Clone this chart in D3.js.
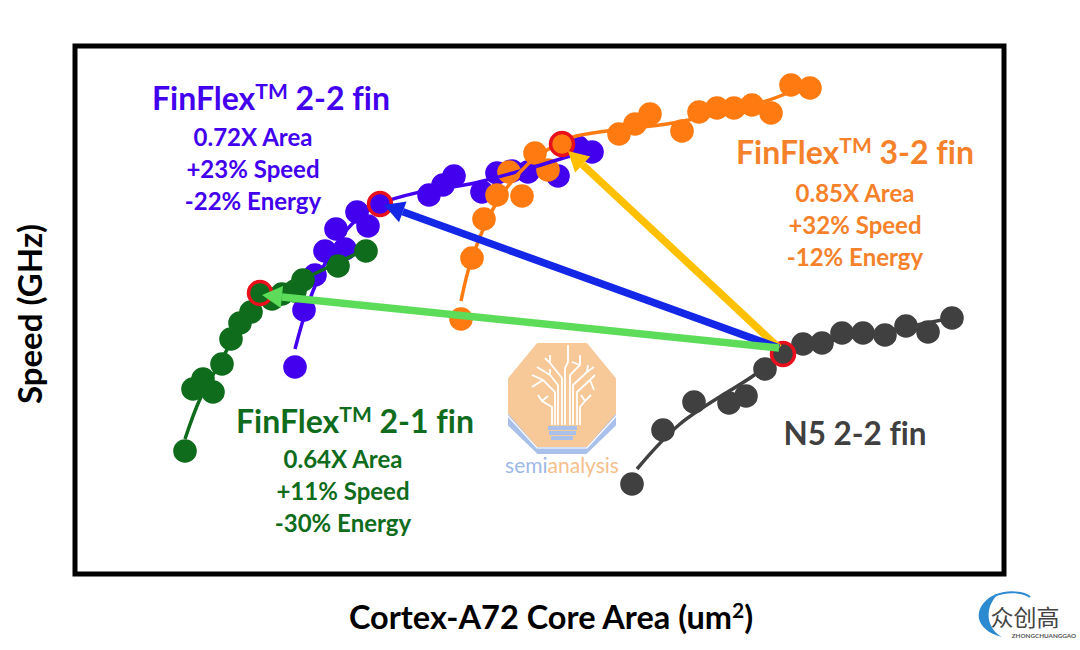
<!DOCTYPE html>
<html>
<head>
<meta charset="utf-8">
<script src="https://cdnjs.cloudflare.com/ajax/libs/d3/7.8.5/d3.min.js"></script>
<style>
  html, body { margin: 0; padding: 0; background: #fff; }
  svg { display: block; }
  text { font-family: Lato, "Open Sans", sans-serif; font-weight: 700; font-variant-ligatures: none; }
</style>
</head>
<body>
<script>
//chart values (no axis numbers in the original, so units are arbitrary)
var orangeX = [386, 397, 409, 422, 447, 434, 473, 460, 487, 544, 560, 575, 607, 624, 642, 659, 677, 696, 716, 735];
var orangeY = [255, 316, 355, 379, 378, 402, 404, 421, 430, 440, 450, 460, 443, 462, 466, 466, 469, 461, 489, 486];
var purpleX = [220, 229, 240, 250, 270, 261, 282, 293, 305, 354, 368, 379, 407, 422, 437, 453, 483, 503, 517];
var purpleY = [207, 264, 299, 323, 325, 345, 362, 348, 370, 379, 389, 398, 382, 401, 403, 402, 398, 427, 422];
var greenX = [110, 118, 128, 138, 147, 156, 165, 176, 185, 197, 207, 220, 228, 263, 291];
var greenY = [123, 185, 195, 182, 210, 235, 251, 262, 281, 275, 280, 283, 294, 308, 323];
var greyX = [557, 588, 619, 654, 671, 690, 708, 728, 747, 767, 788, 810, 831, 853, 877];
var greyY = [90, 144, 172, 171, 178, 205, 220, 230, 231, 241, 241, 239, 248, 242, 256];

//fitted trend lines
var orangeTrend = [[386, 273], [397, 316], [422, 372], [453, 410], [477, 427], [498, 437], [532, 443], [598, 451], [688, 472], [715, 482]];
var purpleTrend = [[220, 225], [229, 257], [240, 288], [255, 320], [277, 350], [305, 370], [345, 382], [395, 390], [445, 403], [495, 418]];
var greenTrend = [[110, 135], [125, 175], [147, 215], [170, 257], [187, 279], [228, 295], [260, 310], [287, 323]];
var greyTrend = [[562, 105], [605, 150], [678, 198], [708, 220], [740, 230], [795, 240], [877, 256]];

//index of the highlighted point on each curve
var orangeMark = 8, purpleMark = 8, greenMark = 8, greyMark = 6;

//chart frame dimensions
var width = 1080, height = 650;
var frame = {left: 75, right: 1004, top: 46, bottom: 574};

var svg = d3.select("body").append("svg")
    .attr("width", width)
    .attr("height", height);

var xScale = d3.scaleLinear().domain([0, 929]).range([frame.left, frame.right]);
var yScale = d3.scaleLinear().domain([0, 528]).range([frame.bottom, frame.top]);

var line = d3.line()
    .x(function(d){ return xScale(d[0]); })
    .y(function(d){ return yScale(d[1]); })
    .curve(d3.curveCatmullRom);

//frame around the plot
svg.append("rect")
    .attr("x", frame.left)
    .attr("y", frame.top)
    .attr("width", frame.right - frame.left)
    .attr("height", frame.bottom - frame.top)
    .attr("fill", "#fff")
    .attr("stroke", "#000")
    .attr("stroke-width", 5);

drawLogo();

//one series of dots
function drawDots(xs, ys, color){
    svg.append("g").selectAll("circle")
        .data(xs)
        .enter()
        .append("circle")
        .attr("cx", function(d){ return xScale(d); })
        .attr("cy", function(d, i){ return yScale(ys[i]); })
        .attr("r", 11.8)
        .attr("fill", color);
}

function drawTrend(points, color){
    svg.append("path")
        .datum(points)
        .attr("d", line)
        .attr("fill", "none")
        .attr("stroke", color)
        .attr("stroke-width", 3.5);
}

var cPurple = "#4200ee", cOrange = "#ff7a10", cGreen = "#0f6c1c", cGrey = "#404040";

drawDots(greyX, greyY, cGrey);
drawTrend(greyTrend, cGrey);
drawDots(purpleX, purpleY, cPurple);
drawDots(greenX, greenY, cGreen);
drawDots(orangeX, orangeY, cOrange);
drawTrend(purpleTrend, cPurple);
drawTrend(greenTrend, cGreen);
drawTrend(orangeTrend, cOrange);

//red rings on the compared points
[[orangeX, orangeY, orangeMark], [purpleX, purpleY, purpleMark],
 [greenX, greenY, greenMark], [greyX, greyY, greyMark]].forEach(function(s){
    svg.append("circle")
        .attr("cx", xScale(s[0][s[2]]))
        .attr("cy", yScale(s[1][s[2]]))
        .attr("r", 11.5)
        .attr("fill", "none")
        .attr("stroke", "#e8101c")
        .attr("stroke-width", 3.5);
});

//arrows from the N5 point to each FinFlex point
function drawArrow(x1, y1, x2, y2, color){
    var angle = Math.atan2(y2 - y1, x2 - x1);
    var headLen = 20, headHalf = 11;
    var bx = x2 - headLen * Math.cos(angle), by = y2 - headLen * Math.sin(angle);
    var nx = -Math.sin(angle), ny = Math.cos(angle);
    svg.append("line")
        .attr("x1", x1).attr("y1", y1)
        .attr("x2", bx).attr("y2", by)
        .attr("stroke", color)
        .attr("stroke-width", 7.5);
    svg.append("polygon")
        .attr("points", [[x2, y2], [bx + nx * headHalf, by + ny * headHalf], [bx - nx * headHalf, by - ny * headHalf]].join(" "))
        .attr("fill", color);
}

var startX = xScale(greyX[greyMark]) - 4, startY = yScale(greyY[greyMark]) - 6;
drawArrow(startX, startY, xScale(orangeX[orangeMark]) + 6, yScale(orangeY[orangeMark]) + 7, "#ffc000");
drawArrow(startX, startY, xScale(purpleX[purpleMark]) + 4, yScale(purpleY[purpleMark]) + 1, "#1427e6");
drawArrow(startX, startY, xScale(greenX[greenMark]) + 2, yScale(greenY[greenMark]) + 2, "#5cdc58");

//series labels
function label(x, y, title, subX, subY, lines, color){
    var t = svg.append("text")
        .attr("x", x).attr("y", y)
        .attr("text-anchor", "middle")
        .attr("font-size", 32)
        .attr("fill", color);
    t.append("tspan").text("FinFlex");
    t.append("tspan").attr("font-size", 21).attr("dy", -11).text("TM");
    t.append("tspan").attr("dy", 11).text(" " + title);
    lines.forEach(function(d, i){
        svg.append("text")
            .attr("x", subX)
            .attr("y", subY + i * 32)
            .attr("text-anchor", "middle")
            .attr("font-size", 24)
            .attr("fill", color)
            .text(d);
    });
}

label(271, 110, "2-2 fin", 253, 146, ["0.72X Area", "+23% Speed", "-22% Energy"], cPurple);
label(855, 164, "3-2 fin", 855, 202, ["0.85X Area", "+32% Speed", "-12% Energy"], "#f5822a");
label(355, 433, "2-1 fin", 343, 468, ["0.64X Area", "+11% Speed", "-30% Energy"], cGreen);

svg.append("text")
    .attr("x", 855).attr("y", 445)
    .attr("text-anchor", "middle")
    .attr("font-size", 31.5)
    .attr("fill", "#404040")
    .text("N5 2-2 fin");

//axis titles
svg.append("text")
    .attr("transform", "translate(42,314) rotate(-90)")
    .attr("text-anchor", "middle")
    .attr("font-size", 33)
    .attr("fill", "#000")
    .text("Speed (GHz)");

var xTitle = svg.append("text")
    .attr("x", 551).attr("y", 629)
    .attr("text-anchor", "middle")
    .attr("font-size", 32.5)
    .attr("fill", "#000");
xTitle.append("tspan").text("Cortex-A72 Core Area (um");
xTitle.append("tspan").attr("font-size", 21).attr("dy", -11).text("2");
xTitle.append("tspan").attr("dy", 11).text(")");

drawWatermark();

//semianalysis logo in the middle of the plot
function drawLogo(){
    var g = svg.append("g").attr("transform", "translate(562,395)");
    g.append("path")
        .attr("d", "M-53,20 L-53,30 L-24,58 L24,58 L53,30 L53,20 Z")
        .attr("fill", "#a9c1ea")
        .attr("stroke", "#a9c1ea")
        .attr("stroke-width", 2)
        .attr("stroke-linejoin", "round");
    g.append("path")
        .attr("d", "M-24,-50 L24,-50 L52,-16 L52,18 L24,50 L-24,50 L-52,18 L-52,-16 Z")
        .attr("fill", "#f7c898")
        .attr("stroke", "#f7c898")
        .attr("stroke-width", 4)
        .attr("stroke-linejoin", "round");
    //thin white gap between the octagon and the band under it
    g.append("path")
        .attr("d", "M-55,20 L-25,53 L25,53 L55,20")
        .attr("fill", "none")
        .attr("stroke", "#fff")
        .attr("stroke-width", 1.2);

    //circuit tree branches
    var branches = [
        "M3,30 L3,-27 L6,-33 L6,-50",
        "M0,30 L0,-17 L-12,-32 L-12,-40 M-12,-32 L-17,-37",
        "M8,30 L8,-20 L18,-30 L18,-40 M18,-30 L10,-33",
        "M-4,30 L-4,-10 L-12,-20 L-25,-28 M-12,-20 L-12,-26",
        "M11,30 L11,-10 L25,-23 L26,-30 M25,-23 L32,-28",
        "M-7,30 L-7,-3 L-19,-15 L-30,-20 M-19,-15 L-30,-8",
        "M15,30 L15,-3 L28,-15 L33,-20 M28,-15 L32,-5",
        "M-10,30 L-10,12 L-20,6 L-24,0 M-20,6 L-14,1",
        "M18,30 L18,12 L23,6 L29,0 M23,6 L19,0"
    ];
    g.selectAll(".branch")
        .data(branches)
        .enter()
        .append("path")
        .attr("class", "branch")
        .attr("d", function(d){ return d; })
        .attr("fill", "none")
        .attr("stroke", "#fff")
        .attr("stroke-width", 1.8);

    //bulb base
    g.selectAll(".base")
        .data([[-14, 31, 29], [-13, 36, 27], [-11, 41, 22]])
        .enter()
        .append("rect")
        .attr("class", "base")
        .attr("x", function(d){ return d[0]; })
        .attr("y", function(d){ return d[1]; })
        .attr("width", function(d){ return d[2]; })
        .attr("height", 4)
        .attr("fill", "#a9c1ea");

    var name = g.append("text")
        .attr("x", 0).attr("y", 78)
        .attr("text-anchor", "middle")
        .attr("font-size", 21)
        .style("font-weight", 400);
    name.append("tspan").attr("fill", "#9db9e6").text("semi");
    name.append("tspan").attr("fill", "#f5c08c").text("analysis");
}

//corner watermark
function drawWatermark(){
    var g = svg.append("g").attr("transform", "translate(1022,620)");
    g.append("path")
        .attr("d", "M-30,-24 C-50,-12 -48,10 -20,17 C-36,8 -38,-12 -24,-26 Z")
        .attr("fill", "#2c8ad0");
    g.append("path")
        .attr("d", "M-28,-24 C-14,-30 2,-28 8,-23")
        .attr("fill", "none")
        .attr("stroke", "#2c8ad0")
        .attr("stroke-width", 2);
    g.append("text")
        .attr("x", 3).attr("y", 6)
        .attr("text-anchor", "middle")
        .attr("font-size", 23)
        .attr("fill", "#444")
        .style("font-family", "'Noto Sans CJK SC'")
        .style("font-weight", 400)
        .text("众创高");
    g.append("text")
        .attr("x", 22).attr("y", 18)
        .attr("text-anchor", "middle")
        .attr("font-size", 6.3)
        .attr("fill", "#555")
        .text("ZHONGCHUANGGAO");
}
</script>
</body>
</html>
